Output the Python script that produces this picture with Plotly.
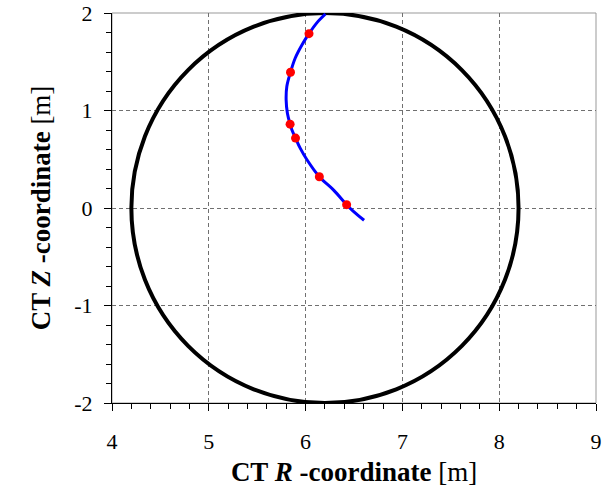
import plotly.graph_objects as go

# Circle (CT boundary): centre and radius
circle_r_center = 6.2
circle_z_center = 0.0
circle_radius = 2.0

# Blue trajectory
curve_r = [6.604, 6.50, 6.424, 6.292, 6.142, 6.014, 5.944, 5.896, 5.858, 5.840,
           5.812, 5.799, 5.806, 5.844, 5.892, 5.962, 6.035, 6.118, 6.205]
curve_z = [-0.126, -0.04, 0.034, 0.181, 0.321, 0.495, 0.614, 0.717, 0.802, 0.860,
           0.973, 1.109, 1.246, 1.392, 1.536, 1.672, 1.788, 1.901, 1.990]

# Red points
pts_r = [6.424, 6.142, 5.896, 5.840, 5.844, 6.035]
pts_z = [0.034, 0.321, 0.717, 0.860, 1.392, 1.788]

x_ticks = [4, 5, 6, 7, 8, 9]
x_labels = ["4", "5", "6", "7", "8", "9"]
y_ticks = [-2, -1, 0, 1, 2]
y_labels = ["-2", "-1", "0", "1", "2"]

FONT = "Liberation Serif, Times New Roman, serif"

fig = go.Figure()
fig.add_trace(go.Scatter(x=curve_r, y=curve_z, mode="lines",
                         line=dict(color="#0000ff", width=3, shape="spline"),
                         showlegend=False, hoverinfo="skip"))
fig.add_trace(go.Scatter(x=pts_r, y=pts_z, mode="markers",
                         marker=dict(color="#ff0000", size=9),
                         showlegend=False))

fig.add_shape(type="circle", xref="x", yref="y",
              x0=circle_r_center - circle_radius, x1=circle_r_center + circle_radius,
              y0=circle_z_center - circle_radius, y1=circle_z_center + circle_radius,
              line=dict(color="black", width=4), layer="between")

# light grey frame on top/right
fig.add_shape(type="rect", xref="paper", yref="paper", x0=0, x1=1, y0=0, y1=1,
              line=dict(color="#999999", width=1), layer="below")

fig.update_layout(
    width=602, height=499,
    margin=dict(l=112, r=6, t=13, b=96),
    paper_bgcolor="white", plot_bgcolor="white",
    font=dict(family=FONT, size=22, color="black"),
    xaxis=dict(range=[4, 9], tickvals=x_ticks, ticktext=x_labels, ticks="outside", ticklen=7,
               tickcolor="black", showline=True, linecolor="black", linewidth=1,
               showgrid=True, gridcolor="#707070", griddash="4px,3px", gridwidth=1,
               zeroline=False, ticklabelstandoff=12, automargin=False,
               ticklabeloverflow="allow",
               minor=dict(dtick=0.2, ticks="outside", ticklen=5, tickcolor="black", showgrid=False),
               title=dict(text="<b>CT <i>R</i> -coordinate</b> [m]", font=dict(size=27), standoff=8)),
    yaxis=dict(range=[-2, 2], tickvals=y_ticks, ticktext=y_labels, ticks="outside", ticklen=7,
               tickcolor="black", showline=True, linecolor="black", linewidth=1,
               showgrid=True, gridcolor="#707070", griddash="4px,3px", gridwidth=1,
               zeroline=False, ticklabelstandoff=7, automargin=False,
               ticklabeloverflow="allow",
               minor=dict(dtick=0.2, ticks="outside", ticklen=5, tickcolor="black", showgrid=False),
               title=dict(text="<b>CT <i>Z</i> -coordinate</b> [m]", font=dict(size=27), standoff=15)),
)

fig.write_html("out.html", config={"displayModeBar": False},
               post_script="document.body.style.margin='0';document.body.style.overflow='hidden';")
